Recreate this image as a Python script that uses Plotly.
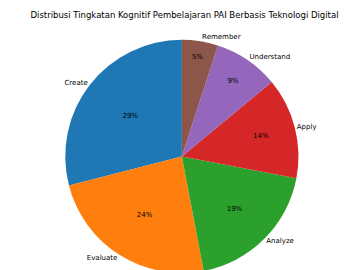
import plotly.graph_objects as go

categories = ["Create", "Evaluate", "Analyze", "Apply", "Understand", "Remember"]
values = [29, 24, 19, 14, 9, 5]
colors = ["#1f77b4", "#ff7f0e", "#2ca02c", "#d62728", "#9467bd", "#8c564b"]
title = "Distribusi Tingkatan Kognitif Pembelajaran PAI Berbasis Teknologi Digital"

dom = dict(x=[0.155, 0.83], y=[0.0, 0.88])
rot = -360 * values[0] / sum(values)

fig = go.Figure()
fig.add_trace(go.Pie(
    labels=categories, values=values, sort=False, direction="counterclockwise",
    rotation=rot, domain=dom, marker=dict(colors=colors, line=dict(width=0)),
    textinfo="percent", texttemplate="%{percent:.0%}", textposition="inside",
    insidetextorientation="horizontal",
    insidetextfont=dict(color="black", size=7, family="DejaVu Sans"),
    showlegend=False, hoverinfo="skip",
))
fig.add_trace(go.Pie(
    labels=categories, values=values, sort=False, direction="counterclockwise",
    rotation=rot, domain=dom, marker=dict(colors=["rgba(0,0,0,0)"] * 6, line=dict(width=0)),
    textinfo="label", textposition="outside",
    outsidetextfont=dict(color="black", size=7, family="DejaVu Sans"),
    showlegend=False, hoverinfo="skip",
))
fig.update_layout(
    width=353, height=270,
    margin=dict(l=0, r=0, t=0, b=0),
    paper_bgcolor="white",
    title=dict(text=title, x=0.5, xanchor="center", y=0.975, yanchor="middle",
               font=dict(size=8.5, family="DejaVu Sans", color="black")),
)
fig.write_html("out.html")
